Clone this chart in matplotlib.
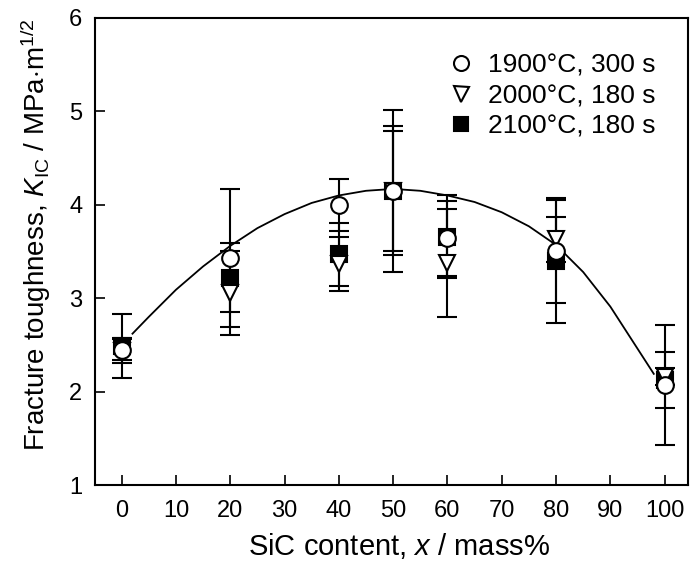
import matplotlib
matplotlib.use("Agg")
import matplotlib.pyplot as plt

plt.rcParams['font.family'] = ['Liberation Sans', 'DejaVu Sans']
plt.rcParams['mathtext.fontset'] = 'custom'
plt.rcParams['mathtext.rm'] = 'Liberation Sans'
plt.rcParams['mathtext.it'] = 'Liberation Sans:italic'

# SiC content (mass%)
sic = [0, 20, 40, 50, 60, 80, 100]

# 1900 C, 300 s
k_1900 = [2.45, 3.43, 4.00, 4.15, 3.64, 3.50, 2.07]
err_1900 = [0.11, 0.74, 0.28, 0.87, 0.40, 0.55, 0.64]
# 2000 C, 180 s
k_2000 = [2.44, 3.06, 3.37, 4.15, 3.38, 3.63, 2.16]
err_2000 = [0.13, 0.45, 0.29, 0.69, 0.58, 0.24, 0.09]
# 2100 C, 180 s
k_2100 = [2.49, 3.22, 3.47, 4.15, 3.66, 3.40, 2.12]
err_2100 = [0.34, 0.37, 0.34, 0.64, 0.44, 0.67, 0.30]

# trend curve
curve_x = [2, 5, 10, 15, 20, 25, 30, 35, 40, 45, 50, 55, 60, 65, 70, 75, 80, 85, 90, 95, 98]
curve_y = [2.62, 2.80, 3.09, 3.34, 3.56, 3.75, 3.90, 4.02, 4.10, 4.15, 4.17, 4.15, 4.10,
           4.03, 3.92, 3.77, 3.57, 3.28, 2.91, 2.46, 2.19]

fig = plt.figure(figsize=(6.9, 5.65), dpi=100)
ax = fig.add_axes([95 / 690, 1 - 485 / 565, (688 - 95) / 690, (485 - 18) / 565])

ax.plot(curve_x, curve_y, color="black", lw=1.3, zorder=1)

ebkw = dict(ecolor="black", elinewidth=1.5, capsize=7.5, capthick=1.5, ls="none", zorder=2)
h3 = ax.errorbar(sic, k_2100, yerr=err_2100, marker="s", ms=11, mfc="black", mec="black",
                 mew=1.5, **ebkw)
h2 = ax.errorbar(sic, k_2000, yerr=err_2000, marker="v", ms=12, mfc="white", mec="black",
                 mew=1.5, **ebkw)
h1 = ax.errorbar(sic, k_1900, yerr=err_1900, marker="o", ms=12, mfc="white", mec="black",
                 mew=1.5, **ebkw)

ax.set_xlim(-4.9, 104.3)
ax.set_ylim(1, 6)
ax.set_xticks(range(0, 101, 10))
ax.set_yticks(range(1, 7))
ax.tick_params(direction="in", length=7, width=1.2, labelsize=17)
ax.tick_params(axis="x", pad=11)
ax.tick_params(axis="y", pad=9)
for s in ax.spines.values():
    s.set_linewidth(1.5)

ax.set_xlabel("SiC content, $\\it{x}$ / mass%", fontsize=21, labelpad=6)
ax.set_ylabel("Fracture toughness, $\\it{K}_{\\rm IC}$ / MPa$\\cdot$m$^{1/2}$", fontsize=20,
              labelpad=12)
ax.xaxis.label.set_x(0.513)
ax.yaxis.label.set_y(0.535)

leg = ax.legend([h1[0], h2[0], h3[0]], ["1900°C, 300 s", "2000°C, 180 s", "2100°C, 180 s"],
                loc="upper right", bbox_to_anchor=(0.985, 0.975), frameon=False, fontsize=19,
                handlelength=0.8, handletextpad=0.6, labelspacing=0.25, markerscale=0.9)

fig.savefig("out.png", dpi=100)
